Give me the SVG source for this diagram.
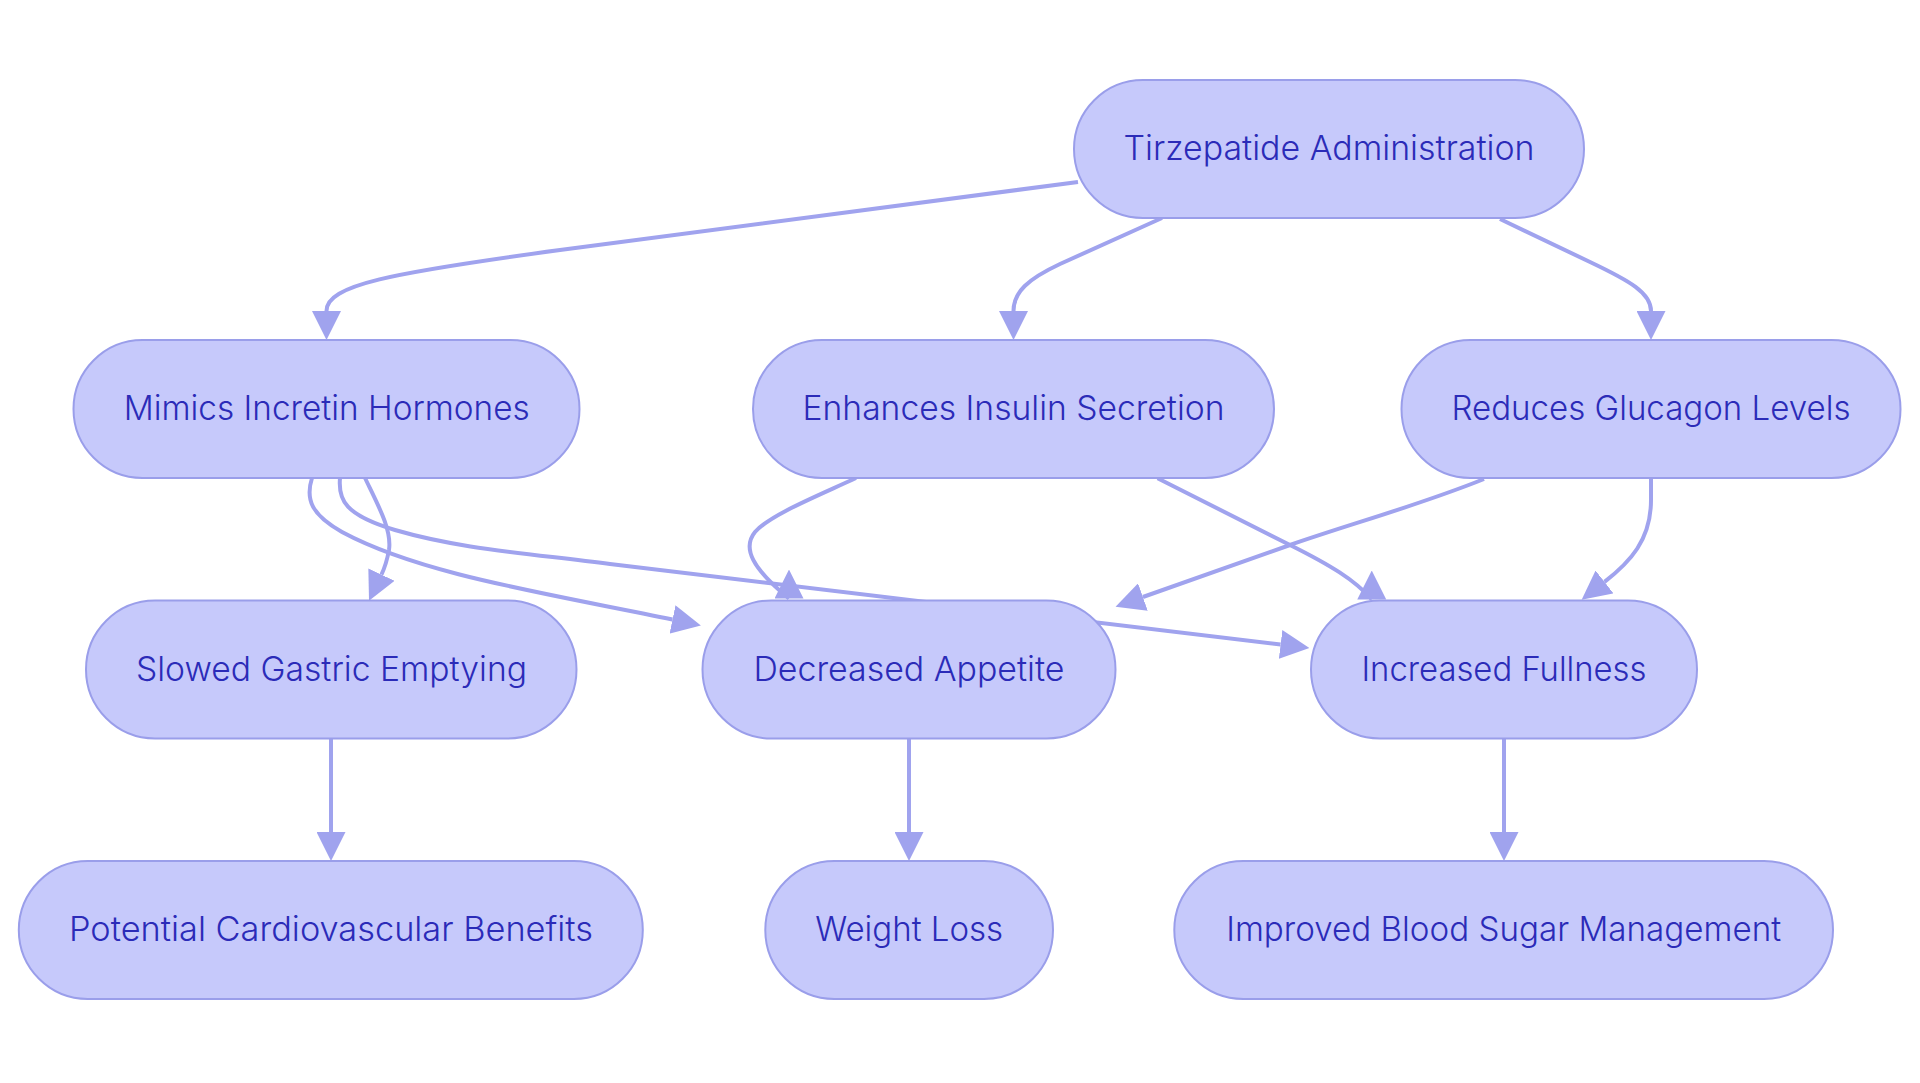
<svg xmlns="http://www.w3.org/2000/svg" width="1920" height="1083" viewBox="0 0 1920 1083">
<style>
.edge{fill:none;stroke:#A0A3EE;stroke-width:4;stroke-linecap:butt;stroke-linejoin:round}
.node rect{fill:#C6C9FB;stroke:#9A9EEA;stroke-width:2}
.node text{font-family:"Inter","Noto Sans","Liberation Sans",sans-serif;font-size:34px;font-weight:300;fill:#2B2BB8;text-anchor:middle}
</style>
<defs>
<marker id="ah" viewBox="0 0 29 29" refX="0" refY="14.5" markerWidth="29" markerHeight="29" markerUnits="userSpaceOnUse" orient="auto"><path d="M0,0 L29,14.5 L0,29 z" fill="#A0A3EE"/></marker>
<marker id="ahUp" viewBox="0 0 29 29" refX="0" refY="14.5" markerWidth="29" markerHeight="29" markerUnits="userSpaceOnUse" orient="270"><path d="M0,0 L29,14.5 L0,29 z" fill="#A0A3EE"/></marker>
</defs>
<rect width="1920" height="1083" fill="#FFFFFF"/>
<g id="connectors">
<path class="edge" marker-end="url(#ah)" d="M1078,182 L560,250 C390,273 326.5,285 326.5,311"/>
<path class="edge" marker-end="url(#ah)" d="M1162,218 L1060,264 C1028,279 1013.5,292 1013.5,311"/>
<path class="edge" marker-end="url(#ah)" d="M1500,219 L1590,262 C1630,281 1651,293 1651,311"/>
<path class="edge" marker-end="url(#ah)" d="M365,478 C378,505 392,530 389,550 C387.5,558 386,565 381.45,574.6"/>
<path class="edge" marker-end="url(#ah)" d="M312,478 C305,500 312,515 342,532 C420,574 542,592.5 672.5,619.5"/>
<path class="edge" marker-end="url(#ah)" d="M340,478 C338,500 345,515 395,530 C460,549 525,553 610,564 L1280.6,644.5"/>
<path class="edge" marker-end="url(#ahUp)" d="M856,478 C815,497 770,515 755,532 C742,548 752,568 789,598.5"/>
<path class="edge" marker-end="url(#ahUp)" d="M1157.6,478.3 L1290,545 C1330,565 1355,580 1371.75,599.5"/>
<path class="edge" marker-end="url(#ah)" d="M1484,479 C1420,505 1350,524 1290,545 L1142.9,597"/>
<path class="edge" marker-end="url(#ah)" d="M1651,478 L1651,500 C1651,540 1630,562 1604.5,581.9"/>
<path class="edge" marker-end="url(#ah)" d="M331,739 L331,832"/>
<path class="edge" marker-end="url(#ah)" d="M909,739 L909,832"/>
<path class="edge" marker-end="url(#ah)" d="M1504,739 L1504,832"/>
</g>
<g id="tirzepatide" class="node"><rect x="1074" y="80" width="510" height="138" rx="69"/><text x="1329" y="160" textLength="411" lengthAdjust="spacingAndGlyphs">Tirzepatide Administration</text></g>
<g id="mimics" class="node"><rect x="73.5" y="340" width="506" height="138" rx="69"/><text x="326.7" y="420" textLength="406" lengthAdjust="spacingAndGlyphs">Mimics Incretin Hormones</text></g>
<g id="insulin" class="node"><rect x="753" y="340" width="521" height="138" rx="69"/><text x="1013.5" y="420" textLength="422" lengthAdjust="spacingAndGlyphs">Enhances Insulin Secretion</text></g>
<g id="glucagon" class="node"><rect x="1401.5" y="340" width="499" height="138" rx="69"/><text x="1651" y="420" textLength="399" lengthAdjust="spacingAndGlyphs">Reduces Glucagon Levels</text></g>
<g id="gastric" class="node"><rect x="86" y="600.5" width="490.5" height="138" rx="69"/><text x="331.5" y="680.5" textLength="391" lengthAdjust="spacingAndGlyphs">Slowed Gastric Emptying</text></g>
<g id="appetite" class="node"><rect x="702.5" y="600.5" width="413" height="138" rx="69"/><text x="909" y="680.5" textLength="311" lengthAdjust="spacingAndGlyphs">Decreased Appetite</text></g>
<g id="fullness" class="node"><rect x="1311" y="600.5" width="386" height="138" rx="69"/><text x="1504" y="680.5" textLength="285" lengthAdjust="spacingAndGlyphs">Increased Fullness</text></g>
<g id="cardio" class="node"><rect x="18.8" y="861" width="624" height="138" rx="69"/><text x="331" y="941" textLength="524" lengthAdjust="spacingAndGlyphs">Potential Cardiovascular Benefits</text></g>
<g id="weightloss" class="node"><rect x="765.3" y="861" width="287.7" height="138" rx="69"/><text x="909.2" y="941" textLength="188" lengthAdjust="spacingAndGlyphs">Weight Loss</text></g>
<g id="bloodsugar" class="node"><rect x="1174.3" y="861" width="658.7" height="138" rx="69"/><text x="1503.7" y="941" textLength="555" lengthAdjust="spacingAndGlyphs">Improved Blood Sugar Management</text></g>
</svg>
